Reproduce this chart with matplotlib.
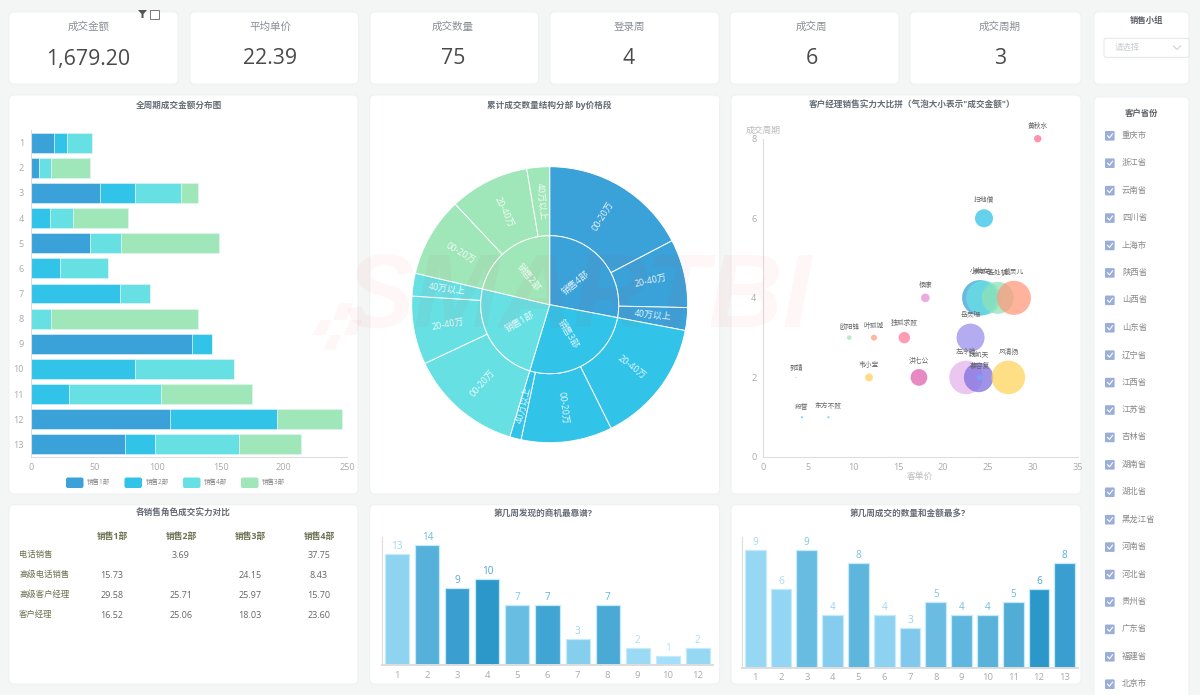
import matplotlib
matplotlib.use("Agg")
import matplotlib.pyplot as plt
from matplotlib.patches import FancyBboxPatch, Rectangle, Polygon
import numpy as np

plt.rcParams['font.family'] = ['Open Sans', 'Noto Sans CJK SC', 'DejaVu Sans']

W, H = 1200, 695

# KPI cards
kpi_names = ['成交金额', '平均单价', '成交数量', '登录周', '成交周', '成交周期']
kpi_values = ['1,679.20', '22.39', '75', '4', '6', '3']

# stacked bars, amount per week
weeks = list(range(1, 14))
team_names = ['销售1部', '销售2部', '销售4部', '销售3部']
team1 = [18.2, 6.6, 54.9, 0, 46.5, 0, 0, 0, 127, 0, 0, 110.3, 74.2]
team2 = [10.3, 0, 27.7, 15, 0, 23, 70.7, 0, 16, 82.6, 30.4, 84.7, 24]
team4 = [19.5, 9, 35.7, 18, 24.5, 37.7, 23.8, 15.8, 0, 78.2, 72.3, 0, 66.5]
team3 = [0, 31.4, 14, 43.8, 77.6, 0, 0, 116.7, 0, 0, 71.8, 51.3, 49.3]

# sunburst, deal counts
sun_groups = ['销售4部', '销售3部', '销售1部', '销售2部']
sun_labels = ['00-20万', '20-40万', '40万以上',
              '20-40万', '00-20万', '40万以上',
              '00-20万', '20-40万', '40万以上',
              '00-20万', '20-40万', '40万以上']
sun_counts = [13, 6, 2, 11, 8, 1, 10, 6, 2, 7, 7, 2]
sun_group_counts = [21, 20, 18, 16]

# bubbles
mgr_names = ['黄秋水', '扫地僧', '杨康', '小龙女', '袁承志', '丘处机', '戴灵儿', '岳灵珊',
             '欧阳锋', '叶孤城', '独孤求败', '郭靖', '韦小宝', '洪七公', '左冷禅', '魏凯天',
             '慕容复', '风清扬', '段誉', '东方不败']
mgr_price = [30.55, 24.57, 18.04, 24.1, 24.5, 26.1, 27.9, 23.07,
             9.57, 12.32, 15.7, 3.64, 11.77, 17.33, 22.57, 23.97,
             24.12, 27.28, 4.3, 7.24]
mgr_cycle = [8, 6, 4, 4, 4, 4, 4, 3, 3, 3, 3, 2, 2, 2, 2, 2, 2, 2, 1, 1]
mgr_amount = [9.6, 57, 13, 220, 210, 180, 203, 138, 3.7, 6.3, 23, 0.14, 11, 49, 197, 152,
              6.3, 197, 0.7, 1]

# role table
table_cols = ['销售1部', '销售2部', '销售3部', '销售4部']
table_rows = ['电话销售', '高级电话销售', '高级客户经理', '客户经理']
table_vals = [['', '3.69', '', '37.75'],
              ['15.73', '', '24.15', '8.43'],
              ['29.58', '25.71', '25.97', '15.70'],
              ['16.52', '25.06', '18.03', '23.60']]

# weekly bars
found_weeks = ['1', '2', '3', '4', '5', '6', '7', '8', '9', '10', '12']
found_counts = [13, 14, 9, 10, 7, 7, 3, 7, 2, 1, 2]
deal_weeks = [str(w) for w in weeks]
deal_counts = [9, 6, 9, 4, 8, 4, 3, 5, 4, 4, 5, 6, 8]

provinces = ['重庆市', '浙江省', '云南省', '四川省', '上海市', '陕西省', '山西省', '山东省', '辽宁省',
             '江西省', '江苏省', '吉林省', '湖南省', '湖北省', '黑龙江省', '河南省', '河北省', '贵州省',
             '广东省', '福建省', '北京市']

# styles
TEAM_COLORS = ['#3aa1d9', '#31c3e8', '#66e0e3', '#9fe6b8']
SUN_COLORS = {'销售4部': '#3aa1d9', '销售3部': '#31c3e8', '销售1部': '#66e0e3', '销售2部': '#9fe6b8'}
MGR_COLORS = ['#ff6f91', '#31c3e8', '#e58fd3', '#3aa1d9', '#66dfe3', '#8fe3b6', '#ff9a7d', '#9a90ec',
              '#9fe6b8', '#ff9f7f', '#ff7a9a', '#31c3e8', '#ffd25c', '#e062ae', '#e3b4ec', '#7f6fe0',
              '#6fa8ff', '#ffd55e', '#31c3e8', '#66e0e3']
FOUND_COLORS = ['#8ed3f0', '#55b0da', '#3a9fd0', '#2c98c9', '#68bde2', '#40a5d2', '#85ceee',
                '#4aaad5', '#9adaf5', '#a3defa', '#96d8f4']
DEAL_COLORS = ['#96d8f4', '#93d6f3', '#68bbe1', '#85ccee', '#5fb6dd', '#8dd2f1', '#80c9ec',
               '#6abce2', '#5fb6de', '#58b2da', '#52add6', '#2c98c9', '#3a9fd0']
AXIS = '#dddddd'
TICK = '#aaaaaa'
TITLE = '#666c75'


def px_axes(x0, y0, x1, y1):
    return fig.add_axes([x0 / W, 1 - y1 / H, (x1 - x0) / W, (y1 - y0) / H], facecolor='none')


def card(x0, y0, x1, y1):
    bg.add_patch(FancyBboxPatch((x0 + 5, y0 + 5), x1 - x0 - 10, y1 - y0 - 10,
                                boxstyle='round,pad=5,rounding_size=5',
                                fc='white', ec='#eef1f3', lw=0.8))


def clean_axes(ax):
    for side in ['top', 'right']:
        ax.spines[side].set_visible(False)
    for side in ['left', 'bottom']:
        ax.spines[side].set_color(AXIS)
    ax.tick_params(length=0, labelsize=6.6, labelcolor=TICK)


def week_bars(ax, names, counts, colors, ymax, tick_pad):
    xs = np.arange(len(names))
    ax.bar(xs, counts, width=0.8, color=colors, edgecolor='#c5ebfb', linewidth=0.9)
    for x, c, col in zip(xs, counts, colors):
        ax.annotate(str(c), (x, c), xytext=(0, 5.5), textcoords='offset points',
                    ha='center', va='center', fontsize=7.2, color=col, alpha=0.85)
    ax.set_xticks(xs, names)
    ax.set_yticks([])
    ax.set_xlim(-0.5, len(names) - 0.5)
    ax.set_ylim(0, ymax)
    clean_axes(ax)
    ax.spines['bottom'].set_linewidth(1.4)
    ax.tick_params(axis='x', pad=tick_pad, labelsize=6.8)


fig = plt.figure(figsize=(W / 100, H / 100), dpi=100, facecolor='#f4f5f5')
bg = fig.add_axes([0, 0, 1, 1])
bg.set_xlim(0, W)
bg.set_ylim(H, 0)
bg.axis('off')

# cards
kpi_x = [(9, 178), (190, 358.5), (370, 538.5), (550, 719), (730, 899), (910, 1081)]
kpi_cx = [88.5, 270.5, 453, 629, 811.5, 1000]
for (x0, x1), cx, name, val in zip(kpi_x, kpi_cx, kpi_names, kpi_values):
    card(x0, 12, x1, 84)
    bg.text(cx, 27, name, ha='center', va='center', fontsize=7.6, color='#8a8f96')
    bg.text(cx, 59, val, ha='center', va='center', fontsize=15.3, color='#4a4a4a')
card(1094, 12, 1189, 84)
card(1094, 97, 1189, 710)
card(9, 95, 358, 494)
card(369.7, 95, 719.7, 494)
card(731, 95, 1081, 494)
card(9, 504.7, 358, 684)
card(369.7, 504.7, 719.7, 684)
card(731, 504.7, 1081, 684)

# filter icon on the first card
bg.add_patch(Polygon([(138, 10), (147, 10), (143.5, 14), (143.5, 18), (141.5, 18), (141.5, 14)],
                     fc='#555555', ec='none'))
bg.add_patch(Rectangle((149.5, 9.5), 9, 9.5, fc='white', ec='#777777', lw=0.7))

titles = [(179, 105.5, '全周期成交金额分布图'),
          (549.7, 105.5, '累计成交数量结构分部 by价格段'),
          (912, 105.5, '客户经理销售实力大比拼（气泡大小表示"成交金额"）'),
          (183, 513, '各销售角色成交实力对比'),
          (542.7, 513, '第几周发现的商机最靠谱?'),
          (907.7, 513, '第几周成交的数量和金额最多?')]
for tx, ty, t in titles:
    bg.text(tx, ty, t, ha='center', va='center', fontsize=6.2, color=TITLE, fontweight='bold')

# stacked bars
ax1 = px_axes(31, 130, 347, 457)
left = np.zeros(len(weeks))
for vals, col in zip([team1, team2, team4, team3], TEAM_COLORS):
    ax1.barh(weeks, vals, left=left, height=0.79, color=col, edgecolor='#e4f6fb', linewidth=0.4)
    left += np.array(vals)
ax1.set_ylim(13.5, 0.5)
ax1.set_xlim(0, 250)
ax1.set_yticks(weeks)
ax1.set_xticks([0, 50, 100, 150, 200, 250])
clean_axes(ax1)
ax1.tick_params(axis='y', pad=5)
ax1.tick_params(axis='x', pad=4)

legend_x = [66, 124.5, 183, 241]
for lx, name, col in zip(legend_x, team_names, TEAM_COLORS):
    bg.add_patch(FancyBboxPatch((lx + 2, 479.5), 13.5, 6.5, boxstyle='round,pad=2', fc=col, ec='none'))
    bg.text(lx + 21, 482.7, name, ha='left', va='center', fontsize=4.7, color='#888888')

# sunburst
ax2 = px_axes(411.7, 166.7, 687.7, 442.7)
wedges, _ = ax2.pie(sun_counts, radius=1, startangle=90, counterclock=False,
                    colors=[SUN_COLORS[g] for g in sun_groups for _ in range(3)],
                    wedgeprops=dict(width=0.5, edgecolor='white', linewidth=0.7))
inner, _ = ax2.pie(sun_group_counts, radius=0.5, startangle=90, counterclock=False,
                   colors=[SUN_COLORS[g] for g in sun_groups],
                   wedgeprops=dict(edgecolor='white', linewidth=0.7))
ax2.set_xlim(-1, 1)
ax2.set_ylim(-1, 1)


def radial_text(wedge, label, r, size):
    mid = (wedge.theta1 + wedge.theta2) / 2
    rot = mid if np.cos(np.radians(mid)) >= 0 else mid + 180
    ax2.text(r * np.cos(np.radians(mid)), r * np.sin(np.radians(mid)), label, rotation=rot,
             rotation_mode='anchor', ha='center', va='center', fontsize=size,
             color='white', alpha=0.9)


for w, lab in zip(wedges, sun_labels):
    radial_text(w, lab, 0.75, 6.5)
for w, lab in zip(inner, sun_groups):
    radial_text(w, lab, 0.25, 6.5)

# bubbles, area follows the amount
ax3 = px_axes(763.3, 138.7, 1077.7, 457)
bubble_scale = 2.96
ax3.scatter(mgr_price, mgr_cycle, s=np.array(mgr_amount) * bubble_scale, c=MGR_COLORS,
            alpha=0.75, linewidths=0, clip_on=False)
for name, x, y, amt in zip(mgr_names, mgr_price, mgr_cycle, mgr_amount):
    ax3.annotate(name, (x, y), xytext=(0, np.sqrt(amt * bubble_scale) / 2 + 6),
                 textcoords='offset points', ha='center', va='center', fontsize=4.9, color='#666666')
ax3.set_xlim(0, 35)
ax3.set_ylim(0, 8)
ax3.set_xticks(range(0, 36, 5))
ax3.set_yticks(range(0, 9, 2))
clean_axes(ax3)
ax3.tick_params(axis='x', pad=4)
ax3.tick_params(axis='y', pad=5)
bg.text(762.7, 130, '成交周期', ha='center', va='center', fontsize=6.3, color='#bbbbbb')
bg.text(920, 476.7, '客单价', ha='center', va='center', fontsize=6.3, color='#bbbbbb')

# role table
col_x = [112, 181, 250, 319]
row_y = [555, 575, 595, 615]
for cx, name in zip(col_x, table_cols):
    bg.text(cx, 536, name, ha='center', va='center', fontsize=6.3, color='#6b7050', fontweight='bold')
for ry, name, row in zip(row_y, table_rows, table_vals):
    bg.text(19, ry, name, ha='left', va='center', fontsize=6, color='#6b7050')
    for cx, v in zip(col_x, row):
        bg.text(cx, ry, v, ha='center', va='center', fontsize=6.5, color='#666666')

# weekly bars
ax5 = px_axes(382.3, 536.7, 712.7, 665)
week_bars(ax5, found_weeks, found_counts, FOUND_COLORS, 15, 4)
ax6 = px_axes(742.3, 536.7, 1077.7, 667.7)
week_bars(ax6, deal_weeks, deal_counts, DEAL_COLORS, 10, 3.5)

# group selector
bg.text(1146.7, 20.7, '销售小组', ha='center', va='center', fontsize=6, color='#5a5f66', fontweight='bold')
bg.add_patch(FancyBboxPatch((1106, 40.3), 81, 15, boxstyle='round,pad=2', fc='white', ec='#e3e5e8', lw=0.7))
bg.text(1115, 48, '请选择', ha='left', va='center', fontsize=6, color='#c8ccd2')
bg.plot([1173.5, 1177, 1180.5], [46, 49.5, 46], color='#c8ccd2', lw=0.7)

# province checkboxes
bg.text(1141, 113, '客户省份', ha='center', va='center', fontsize=6, color='#5a5f66', fontweight='bold')
for i, p in enumerate(provinces):
    py = 135.8 + i * 27.42
    bg.add_patch(FancyBboxPatch((1106, py - 3.8), 7.6, 7.6, boxstyle='round,pad=1',
                                fc='#9aaed8', ec='none'))
    bg.plot([1107.5, 1109.5, 1112.5], [py, py + 2, py - 2], color='white', lw=0.8)
    bg.text(1122, py, p, ha='left', va='center', fontsize=6, color='#888888')

# watermark above everything
wm = fig.add_axes([0, 0, 1, 1], facecolor='none', zorder=20)
wm.set_xlim(0, W)
wm.set_ylim(H, 0)
wm.axis('off')
wm.text(346, 300, 'SMARTBI', ha='left', va='center', fontsize=74, fontweight='bold', style='italic',
        family='Liberation Sans', color='#f0303a', alpha=0.04)
for pts in [[(340, 303), (353, 303), (346, 320), (333, 320)],
            [(321, 320), (332, 320), (325, 335), (312, 335)],
            [(330, 335), (341, 335), (335, 350), (323, 350)],
            [(350, 320), (362, 320), (356, 335), (344, 335)]]:
    wm.add_patch(Polygon(pts, fc='#f0303a', ec='none', alpha=0.04))

fig.savefig('out.png', dpi=100, facecolor=fig.get_facecolor())
